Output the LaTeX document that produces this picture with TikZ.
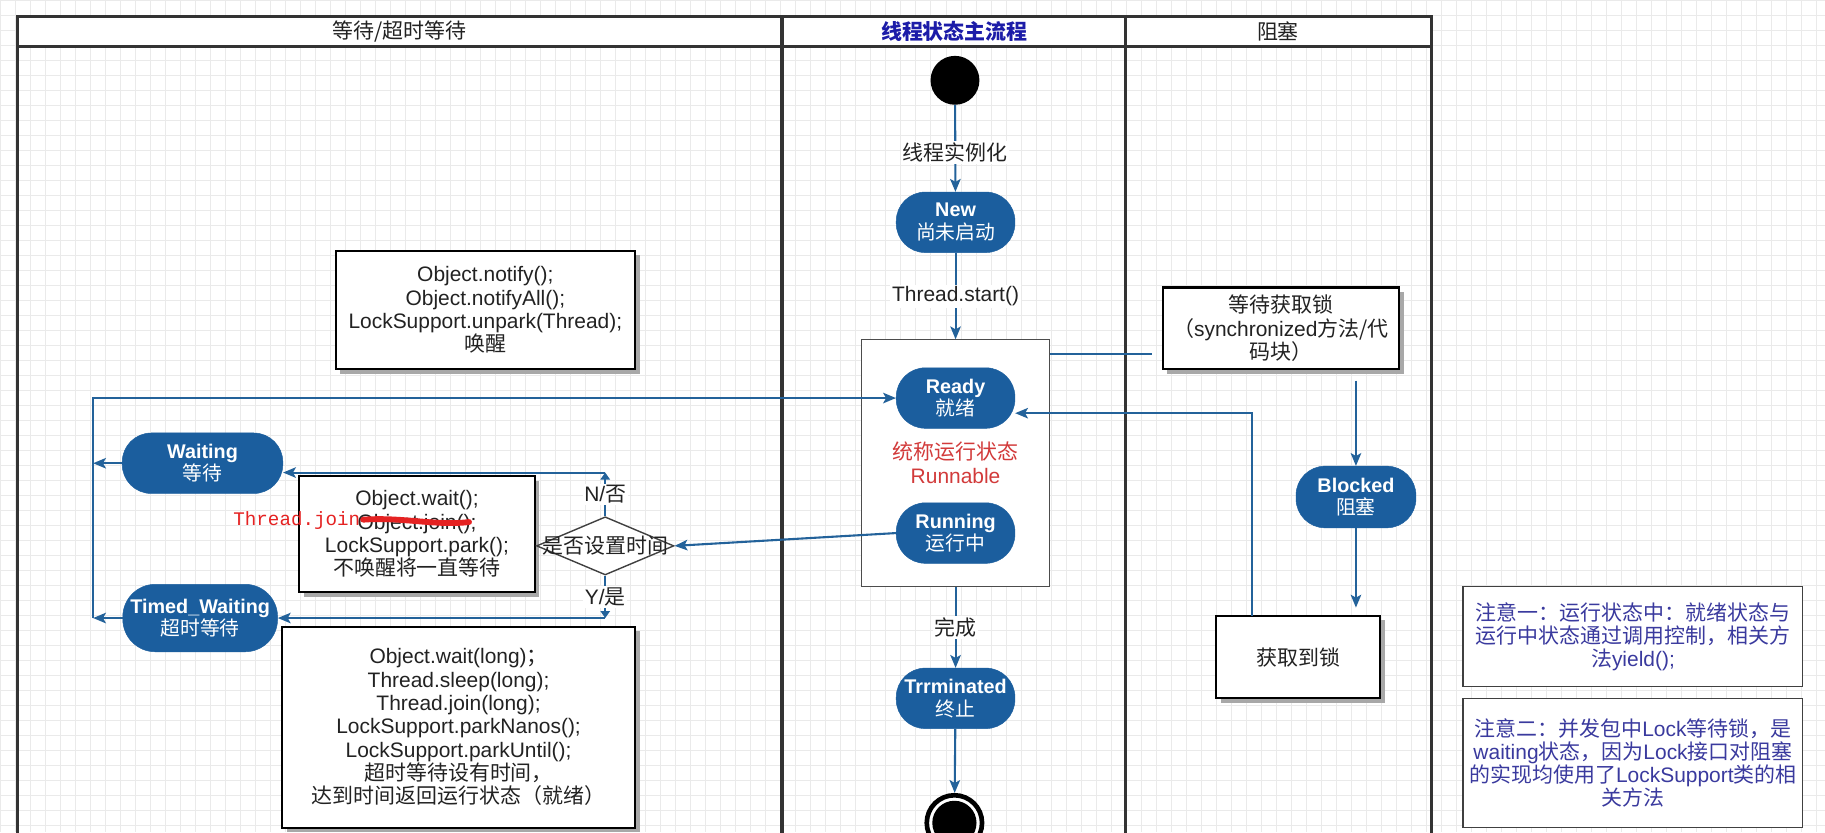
\documentclass[tikz,border=0pt]{standalone}
\usepackage{fontspec}
\setmainfont{Liberation Sans}
\newfontfamily\cjk{Noto Sans CJK SC}
\newfontfamily\monofnt{Liberation Mono}
\usetikzlibrary{arrows.meta,shapes.geometric,shadows,calc}
\newcommand{\zh}[1]{{\cjk #1}}
\newcommand{\zhr}[1]{{\cjk\mdseries #1}}
\definecolor{nodeblue}{HTML}{1B5E9E}
\definecolor{edgeblue}{HTML}{23629A}
\definecolor{poolline}{HTML}{333333}
\definecolor{gridc}{HTML}{EAEAEA}
\definecolor{titleblue}{HTML}{1C1CA8}
\definecolor{runred}{HTML}{D23A3A}
\definecolor{strike}{HTML}{E52222}
\definecolor{notec}{HTML}{3A3A9E}
\definecolor{txt}{HTML}{222222}
\definecolor{shadowc}{HTML}{A8A8A8}
\begin{document}
\begin{tikzpicture}[x=1pt,y=-1pt,
  state/.style={rectangle, rounded corners=25, fill=nodeblue, draw=nodeblue, text=white, minimum width=102, minimum height=52, align=center, inner sep=0, font=\fontsize{17}{19.5}\selectfont\bfseries},
  box/.style={draw=black, line width=1.8, fill=white, align=center, inner sep=0, drop shadow={shadow xshift=4pt, shadow yshift=-4pt, fill=shadowc, opacity=1}, font=\fontsize{18}{20}\selectfont, text=txt},
  note/.style={draw=black!75, line width=1, fill=white, align=center, inner sep=0, font=\fontsize{18}{20}\selectfont, text=notec},
  edge/.style={draw=edgeblue, line width=1.8},
  flow/.style={edge, -{Stealth[length=11, width=9, inset=2.5]}},
  small/.style={edge, -{Triangle[length=6, width=8]}},
  lbl/.style={fill=white, inner sep=1.5, font=\fontsize{18}{20}\selectfont, text=txt},
  lane/.style={draw=poolline, line width=2.4},
  head/.style={font=\fontsize{18}{20}\selectfont, text=txt}
]
\useasboundingbox (0,0) rectangle (1568,715);
\clip (0,0) rectangle (1568,715);
\fill[white] (0,0) rectangle (1568,715);
% grid
\foreach \i in {0,...,122} {\draw[gridc, line width=0.7] (\i*12.9,0) -- (\i*12.9,715);}
\foreach \j in {0,...,56} {\draw[gridc, line width=0.7] (0,\j*12.9) -- (1568,\j*12.9);}

% pool and lanes
\fill[white] (15,14) rectangle (1230,40);
\draw[lane] (15,730) -- (15,14) -- (1230,14) -- (1230,730);
\draw[lane] (15,40) -- (1230,40);
\draw[poolline, line width=3.2] (672,14) -- (672,730);
\draw[poolline, line width=3.2] (967,14) -- (967,730);
\node[head] (h1) at (343,27) {\zh{等待/超时等待}};
\node[head, text=titleblue, font=\fontsize{18}{20}\selectfont\bfseries] (h2) at (820,27) {\zh{线程状态主流程}};
\node[head] (h3) at (1098,27) {\zh{阻塞}};

% main flow
\node[circle, fill=black, minimum size=42, inner sep=0] (start) at (820.5,69) {};
\node[state] (new) at (821,191) {New\\\zhr{尚未启动}};
\node[draw=black!70, line width=1, fill=white, minimum width=162, minimum height=212, inner sep=0] (cont) at (821,398) {};
\node[state] (ready) at (821,342) {Ready\\\zhr{就绪}};
\node[text=runred, align=center, font=\fontsize{18}{20}\selectfont] (runtxt) at (821,397.5) {\zh{统称运行状态}\\Runnable};
\node[state] (running) at (821,458) {Running\\\zhr{运行中}};
\node[state] (term) at (821,600) {Trrminated\\\zhr{终止}};
\node[circle, draw=black, line width=4, fill=white, minimum size=47.5, inner sep=0] (fin) at (820,707) {};
\node[circle, fill=black, minimum size=38, inner sep=0] (finin) at (fin) {};

\draw[flow] (start) -- node[lbl, pos=0.55] {\zh{线程实例化}} (new);
\draw[flow] (new) -- node[lbl] {Thread.start()} (cont.north);
\draw[flow] (cont.south) -- node[lbl] {\zh{完成}} (term);
\draw[flow] (term) -- (fin);

% blocked lane
\node[box, minimum width=203, minimum height=70] (lockw) at (1100.5,282) {\zh{等待获取锁}\\\zh{（}synchronized\zh{方法/代}\\\zh{码块）}};
\node[state, minimum width=103, minimum height=53] (blocked) at (1165,427) {Blocked\\\zhr{阻塞}};
\node[box, minimum width=141, minimum height=71] (gotlock) at (1115.5,564.5) {\zh{获取到锁}};
\coordinate (c1) at (902,304);
\coordinate (c2) at (990,304);
\draw[edge] (c1) -- (c2);
\coordinate (lw1) at (1165,327);
\draw[flow] (lw1) -- (blocked.north);
\coordinate (gl1) at (1165,522);
\draw[flow] (blocked.south) -- (gl1);
\coordinate (gl2) at (1076,529);
\draw[flow] (gl2) |- ($(ready.east)+(0,13)$);

% waiting lane
\node[box, minimum width=257, minimum height=101.5] (notify) at (417,266.25) {Object.notify();\\Object.notifyAll();\\LockSupport.unpark(Thread);\\\zh{唤醒}};
\node[state, minimum width=138, minimum height=52] (waiting) at (174,398) {Waiting\\\zhr{等待}};
\node[state, minimum width=133, minimum height=58, rounded corners=28] (timed) at (172,531) {Timed\_Waiting\\\zhr{超时等待}};
\node[box, minimum width=202.5, minimum height=99.5] (waitbox) at (358.25,458.75) {Object.wait();\\Object.join();\\LockSupport.park();\\\zh{不唤醒将一直等待}};
\node[box, minimum width=303, minimum height=172.5] (timedbox) at (394,624.75) {Object.wait(long)\zh{；}\\Thread.sleep(long);\\Thread.join(long);\\LockSupport.parkNanos();\\LockSupport.parkUntil();\\\zh{超时等待设有时间，}\\\zh{达到时间返回运行状态（就绪）}};
\node[diamond, draw=black!75, line width=1.2, fill=white, minimum width=118, minimum height=50, inner sep=0] (dec) at (520,469) {};
\node[font=\fontsize{18}{20}\selectfont, text=txt] (dect) at (dec) {\zh{是否设置时间}};

% red correction
\draw[strike, line width=5, line cap=round] (312,446.5) .. controls (345,444) and (375,452) .. (403,448.5);
\node[text=strike, font=\monofnt\fontsize{16.5}{18}\selectfont] (tj) at (255,447) {Thread.join};

% waiting lane connectors
\draw[flow] (running.west) -- (dec.east);
\coordinate (n1) at (520,406);
\draw[small] (dec.north) -- node[lbl, pos=0.5] {N/\zh{否}} (n1);
\draw[flow] (n1) -- (waiting.east |- n1);
\coordinate (y1) at (520,531);
\draw[small] (dec.south) -- node[lbl, pos=0.5] {Y/\zh{是}} (y1);
\draw[flow] (y1) -- (timed.east |- y1);
\coordinate (lv1) at (80,398);
\coordinate (lv2) at (80,531);
\draw[flow] (waiting.west) -- (lv1);
\draw[flow] (timed.west) -- (lv2);
\draw[flow] (lv2) |- (ready.west);

% notes
\node[note, minimum width=292, minimum height=86] (note1) at (1403,547) {\zh{注意一：运行状态中：就绪状态与}\\\zh{运行中状态通过调用控制，相关方}\\\zh{法}yield();};
\node[note, minimum width=292, minimum height=111] (note2) at (1403,655.5) {\zh{注意二：并发包中}Lock\zh{等待锁，是}\\waiting\zh{状态，因为}Lock\zh{接口对阻塞}\\\zh{的实现均使用了}LockSupport\zh{类的相}\\\zh{关方法}};
\end{tikzpicture}
\end{document}
